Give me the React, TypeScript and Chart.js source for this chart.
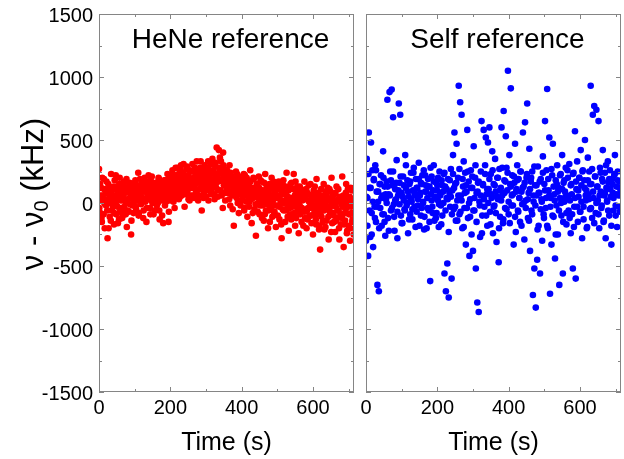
import React, { useEffect, useRef } from 'react';
import { Chart, registerables } from 'chart.js';

Chart.register(...registerables);

const FONT = '"Liberation Sans", Arial, Helvetica, sans-serif';
const X_MIN = 0;
const X_MAX = 715;
const X_TICK_STEP = 200;
const Y_MIN = -1500;
const Y_MAX = 1500;
const Y_TICK_STEP = 500;
const X_TITLE = 'Time (s)';
const HENE_TITLE = 'HeNe reference';
const SELF_TITLE = 'Self reference';
const Y_TITLE_MAIN = 'ν - ν';
const Y_TITLE_SUB = '0';
const Y_TITLE_UNIT = ' (kHz)';

// ν - ν0 (kHz), HeNe reference, samples at t = 0, 2, 4, ... s
const heneValuesEven = [
  270, 40, -80, 120, -150, 60, 10, 190, -200, 30,
  -20, 90, -280, 150, 0, -110, 70, 230, -60, 110,
  40, -170, 180, 10, -90, 130, -30, 60, -130, 200,
  80, -40, 150, -100, 20, 170, -60, 100, 0, -190,
  120, 30, -70, 160, 50, -250, 90, -20, 140, 10,
  60, 180, -50, 100, 20, 240, -80, 130, 70, -10,
  150, 40, -120, 90, 200, 10, 110, -40, 170, 60,
  30, 130, -90, 80, 210, 0, 140, 50, -60, 120,
  90, -20, 160, 40, 190, -130, 70, 110, 20, 150,
  -160, 100, 60, 180, 10, 130, 230, 50, -70, 140,
  110, 200, 40, 260, 90, 150, -40, 220, 130, 70,
  280, 160, 30, 210, 120, 300, 60, 180, 240, 100,
  -30, 190, 140, 270, 80, 220, 160, 20, 250, 120,
  170, 310, 60, 200, 140, 240, 90, 330, 180, 20,
  220, 110, 280, 150, -60, 260, 190, 80, 300, 140,
  50, 240, 170, 330, 110, 200, 260, 70, 180, 350,
  130, 230, 30, 290, 160, 440, 200, 100, 420, 250,
  180, 330, 60, 230, 400, 140, 270, 20, 190, 120,
  240, 80, 170, 300, -20, 150, 210, 60, 130, -180,
  190, 100, 250, 40, 160, 110, -80, 210, 70, 140,
  20, 180, 90, 230, -40, 130, 60, 200, -110, 100,
  150, 10, 260, 80, -160, 120, 40, 190, -50, 90,
  -260, 60, 140, 0, 210, -90, 100, 30, 170, -20,
  80, -140, 50, 230, -60, 120, 10, -200, 90, 150,
  -30, 60, 200, -110, 30, 130, -70, 80, -190, 40,
  110, -20, 170, -130, 60, 0, -280, 90, 140, -60,
  20, -150, 80, 240, -40, 50, -220, 120, -90, 10,
  160, -110, 40, 230, -20, -180, 70, 0, 130, -70,
  -240, 60, -30, 110, -150, 20, 90, -60, 170, -120,
  30, -200, 80, -40, 140, -100, 0, 60, -160, 20,
  -250, 100, -60, 40, -130, 190, -20, -90, 70, -180,
  -370, 10, -110, 60, -40, 150, -210, -10, 90, -140,
  -50, 40, -290, 110, -80, -20, 200, -160, 20, -100,
  70, -230, -30, 130, -120, 30, -60, -290, 50, -170,
  -10, 210, -90, -350, 40, -140, 80, -40, -220, 110,
  -180, 10, -300, 120, -80, -150, 30, -250,
];

// ν - ν0 (kHz), HeNe reference, samples at t = 1, 3, 5, ... s
const heneValuesOdd = [
  -40, 150, 60, -120, 200, 20, -90, 110, -10, 80,
  170, -60, 30, -200, 120, 50, -140, 90, 10, -30,
  130, -80, 60, 220, -20, 100, -160, 40, 150, -70,
  20, 110, -120, 60, 140, -30, 80, -90, 190, 30,
  -60, 90, 150, -10, 70, -140, 120, 40, -80, 100,
  160, -30, 80, 20, 140, -100, 60, 190, 0, 110,
  40, 170, -60, 120, 30, 90, -150, 140, 60, 220,
  100, -40, 180, 20, 70, 150, -90, 110, 10, 160,
  50, 130, 0, 200, -60, 90, 150, 30, -100, 120,
  70, 180, -20, 110, 40, 160, 90, -150, 200, 20,
  170, 60, 230, 130, 10, 190, 100, 280, 40, 150,
  90, 230, 180, 50, 270, 140, 200, 80, 310, 160,
  220, 70, 150, 290, 110, 30, 200, 260, 140, 60,
  250, 120, 180, 40, 280, 150, 210, 100, 260, 170,
  60, 200, 330, 120, 240, 170, 40, 220, 130, 270,
  190, 100, 280, 20, 210, 150, 310, 90, 240, 180,
  260, 70, 190, 320, 120, 230, 50, 170, 280, 360,
  100, 250, 190, -40, 300, 160, 80, 220, 140, 260,
  120, 200, 30, 170, 240, 90, 150, -50, 190, 110,
  60, 170, 120, 230, 0, 140, 80, 190, -20, 110,
  130, 50, 150, -60, 220, 90, 10, 140, 180, 40,
  -30, 110, 170, 30, 90, -80, 200, 60, 120, -10,
  90, 150, -70, 40, 120, -20, 180, 70, -120, 100,
  20, 160, -90, 70, -10, 140, 40, -60, 110, -150,
  130, -50, 60, 10, 170, -80, 100, -20, 40, 140,
  -100, 60, -30, 120, 20, -170, 90, -50, 180, 0,
  70, 130, -60, 30, -110, 100, 0, -40, 150, -130,
  40, -30, 110, -80, 60, 170, -120, 20, -50, 90,
  -10, 130, -90, 50, -40, 100, -180, 30, -70, 60,
  110, -60, -130, 70, 10, -40, 150, -100, 40, -20,
  60, -90, 130, -30, -170, 20, 80, -60, -210, 30,
  -80, 110, -20, -150, 40, -60, 10, -190, 70, -40,
  120, -110, 20, -40, 90, -230, 0, 60, -80, -150,
  -20, 80, -140, 20, -60, 110, -200, 10, -90, 40,
  -120, -30, 60, -170, 10, -70, 150, -240, -20, 30,
  -90, 50, -200, -30, 100, -130, 0,
];

// ν - ν0 (kHz), self reference, samples at t = 0, 2, 4, ... s
const selfValuesA = [
  -300, 350, 40, -420, 560, 120, -270, 480, -80, 260,
  -350, 190, -30, 300, -150, 90, -650, 10, -700, 150,
  -40, 220, -180, 60, 410, -90, 130, -260, 30, 170,
  820, -120, 70, 880, 250, -60, 900, 140, 680, -10,
  -220, 110, 30, 340, -280, 60, 790, 160, 700, -100,
  80, -160, 210, 20, -50, 380, 120, -20, 180, -240,
  50, 150, -90, 240, 10, -130, 100, 280, -30, 60,
  190, -70, 120, 30, 320, -180, 80, 160, -40, 220,
  0, 260, -110, 90, 140, -200, 40, 190, -60, 130,
  -620, 70, 210, -30, 100, 300, -140, 50, 170, -80,
  140, 20, -190, 250, 60, -20, 180, -100, 90, 230,
  -560, 130, -700, 40, -480, 190, -750, 80, -30, 270,
  -600, 100, 380, -50, 560, 150, -140, 470, 20, 200,
  930, -90, 800, 60, 700, -200, 130, 330, -40, 240,
  -330, 90, 580, -120, 170, -420, 30, 260, -250, 120,
  -380, 450, -60, 200, -520, 80, -790, 160, -865, 10,
  -270, 250, 650, -100, 140, 580, -30, 300, 520, 70,
  -180, 480, 110, 600, -70, 230, 40, 410, -240, 150,
  -20, 350, 90, -310, 200, 30, -470, 270, -110, 120,
  600, 60, -160, 730, 180, -40, 530, 280, 100, 1050,
  -90, 380, 150, 910, -20, 220, 70, -330, 160, 470,
  -230, 110, 300, -60, 190, 40, -150, 250, 90, -10,
  560, 130, -290, 640, 20, 200, 790, -120, 80, 430,
  -380, 170, -60, 250, -730, 10, -520, 140, -830, 60,
  -450, 290, -180, 80, -560, 190, 30, -300, 370, -90,
  150, 650, -40, 260, 905, -200, 100, 520, -720, 40,
  -330, 220, 470, -110, 70, -440, 180, -20, 300, -250,
  120, -650, 40, 230, -100, 380, -560, 160, 10, 90,
  280, -170, 60, 200, -60, 310, 20, -240, 150, -90,
  -520, 240, -30, 570, -600, 110, 330, -150, 50, 200,
  -70, 420, 140, -280, 260, -30, 180, 500, 20, 100,
  -190, 360, 70, 250, -50, 930, 150, -120, 700, 40,
  770, 210, -80, 740, 130, 20, 650, -200, 280, 90,
  -40, 190, 420, -150, 60, 240, -280, 120, 10, 330,
  160, -100, 260, 50, -330, 190, 80, -60, 220, 380,
  -20, 130, -190, 250, 60, 170, -70, 100,
];

// ν - ν0 (kHz), self reference, samples at t = 1, 4, 7, ... s
const selfValuesB = [
  50, -180, 230, -60, 120, -250, 10, 180, -120, 260,
  -30, 90, -200, 150, 40, -90, 200, -150, 70, 0,
  130, -220, 60, 180, -40, 250, -110, 20, 160, -70,
  100, -10, 210, -160, 50, 140, -60, 300, 0, 90,
  -130, 170, 30, -50, 240, 80, -190, 120, -20, 190,
  60, -100, 150, 10, -210, 220, 90, -40, 130, -150,
  280, 20, -80, 170, 40, -120, 100, 200, -10, 70,
  -170, 140, 0, 240, -60, 110, 30, -230, 180, 50,
  -90, 230, 120, -30, 160, -140, 60, 270, -70, 20,
  190, -190, 80, 140, -40, 250, 0, -110, 120, 210,
  -60, 40, 300, -150, 90, 170, -20, 60, -240, 150,
  30, 230, -100, 110, 0, 190, -170, 70, 260, -30,
  140, -80, 50, 200, -200, 100, 20, 280, -130, 80,
  170, -50, 240, 10, -160, 130, 60, -20, 210, -110,
  90, 180, -70, 40, 250, -180, 120, 0, 160, -40,
  230, 30, -140, 110, 200, -90, 60, 290, -20, 140,
  -210, 80, 170, -50, 10, 240, -120, 100, 40, -180,
  190, 60, -30, 270, -100, 130, 20, -250, 150, 90,
  -60, 220, 0, 110, -150, 180, 50, -80, 260, 30,
  -120, 140, 70, 230, -190, 40, 170, -30, 100, 200,
  -70, 10, 250, -130, 120, 60, -200, 180, 30, 150,
  -40, 270, 90, -160, 210, 0, 130, -90, 60, 240,
  -20, 170, -140, 80, 300, 20, -60, 190, 110, -180,
  150, 40, 230, -100, 70, 180, -30, 120,
];

const FRAME_COLOR = '#858585';

const framePlugin = {
  id: 'frameTicks',
  afterDatasetsDraw(chart: any) {
    const { ctx, chartArea } = chart;
    const { left, right, top, bottom } = chartArea;
    const xs = chart.scales.x;
    const ys = chart.scales.y;
    ctx.save();
    ctx.strokeStyle = FRAME_COLOR;
    ctx.lineWidth = 1;
    ctx.strokeRect(Math.round(left) + 0.5, Math.round(top) + 0.5, Math.round(right - left) - 1, Math.round(bottom - top) - 1);
    const major = 5;
    const minor = 3;
    ctx.beginPath();
    const xMajors = xs.ticks.map((t: any) => t.value);
    xMajors.forEach((v: number) => {
      const px = Math.round(xs.getPixelForValue(v)) + 0.5;
      ctx.moveTo(px, bottom); ctx.lineTo(px, bottom - major);
      ctx.moveTo(px, top); ctx.lineTo(px, top + major);
      const mv = v + X_TICK_STEP / 2;
      if (mv < X_MAX) {
        const mp = Math.round(xs.getPixelForValue(mv)) + 0.5;
        ctx.moveTo(mp, bottom); ctx.lineTo(mp, bottom - minor);
        ctx.moveTo(mp, top); ctx.lineTo(mp, top + minor);
      }
    });
    const yMajors = ys.ticks.map((t: any) => t.value);
    yMajors.forEach((v: number) => {
      const py = Math.round(ys.getPixelForValue(v)) + 0.5;
      ctx.moveTo(left, py); ctx.lineTo(left + major, py);
      ctx.moveTo(right, py); ctx.lineTo(right - major, py);
      const mv = v + Y_TICK_STEP / 2;
      if (mv < Y_MAX) {
        const mp = Math.round(ys.getPixelForValue(mv)) + 0.5;
        ctx.moveTo(left, mp); ctx.lineTo(left + minor, mp);
        ctx.moveTo(right, mp); ctx.lineTo(right - minor, mp);
      }
    });
    ctx.stroke();
    ctx.restore();
  },
};

const panelTitlePlugin = {
  id: 'panelTitle',
  afterDraw(chart: any, _args: any, opts: any) {
    const { ctx, chartArea } = chart;
    ctx.save();
    ctx.font = `28px ${FONT}`;
    ctx.fillStyle = '#000';
    ctx.textAlign = 'center';
    ctx.textBaseline = 'alphabetic';
    ctx.fillText(opts.text, (chartArea.left + chartArea.right) / 2 + 4, chartArea.top + 34);
    ctx.restore();
  },
};

const yTitlePlugin = {
  id: 'yTitle',
  afterDraw(chart: any, _args: any, opts: any) {
    if (!opts.show) return;
    const { ctx, chartArea } = chart;
    ctx.save();
    const mainFont = `31px ${FONT}`;
    const subFont = `20px ${FONT}`;
    ctx.font = mainFont;
    const w1 = ctx.measureText(Y_TITLE_MAIN).width;
    const w3 = ctx.measureText(Y_TITLE_UNIT).width;
    ctx.font = subFont;
    const w2 = ctx.measureText(Y_TITLE_SUB).width;
    const total = w1 + w2 + w3;
    const cy = (chartArea.top + chartArea.bottom) / 2 - 9;
    ctx.translate(43, cy);
    ctx.rotate(-Math.PI / 2);
    ctx.fillStyle = '#000';
    ctx.textAlign = 'left';
    ctx.textBaseline = 'alphabetic';
    let x = -total / 2;
    ctx.font = mainFont;
    ctx.fillText(Y_TITLE_MAIN, x, 0);
    x += w1;
    ctx.font = subFont;
    ctx.fillText(Y_TITLE_SUB, x, 5);
    x += w2;
    ctx.font = mainFont;
    ctx.fillText(Y_TITLE_UNIT, x, 0);
    ctx.restore();
  },
};

type Pass = { values: number[]; start: number; step: number };

type PanelProps = {
  passes: Pass[];
  color: string;
  title: string;
  showY: boolean;
  left: number;
  width: number;
};

function Panel({ passes, color, title, showY, left, width }: PanelProps) {
  const ref = useRef<HTMLCanvasElement>(null);
  useEffect(() => {
    if (!ref.current) return;
    const data: { x: number; y: number }[] = [];
    passes.forEach((p) => {
      p.values.forEach((v, i) => data.push({ x: p.start + i * p.step, y: v }));
    });
    const chart = new Chart(ref.current, {
      type: 'scatter',
      data: {
        datasets: [
          {
            data,
            backgroundColor: color,
            borderWidth: 0,
            pointRadius: 3.3,
            pointHoverRadius: 3.3,
            clip: 0,
          } as any,
        ],
      },
      options: {
        animation: false,
        responsive: false,
        maintainAspectRatio: false,
        events: [],
        layout: {
          autoPadding: false,
          padding: showY ? { top: 14, right: 4, left: 0, bottom: 0 } : { top: 14, right: 3, left: 8, bottom: 0 },
        },
        plugins: {
          legend: { display: false },
          tooltip: { enabled: false },
          panelTitle: { text: title },
          yTitle: { show: showY },
        } as any,
        scales: {
          x: {
            type: 'linear',
            min: X_MIN,
            max: X_MAX,
            grid: { display: false, drawTicks: false },
            border: { display: false },
            ticks: {
              stepSize: X_TICK_STEP,
              autoSkip: false,
              maxRotation: 0,
              padding: 4,
              color: '#000',
              font: { size: 20, family: FONT },
              callback: (v: any) => String(v),
            },
            afterBuildTicks: (s: any) => {
              const ticks: { value: number }[] = [];
              for (let v = X_MIN; v <= X_MAX; v += X_TICK_STEP) ticks.push({ value: v });
              s.ticks = ticks;
            },
            title: {
              display: true,
              text: X_TITLE,
              color: '#000',
              font: { size: 25, family: FONT },
              padding: { top: 0, bottom: 1 },
            },
            afterFit: (s: any) => {
              s.height = 67;
              s.paddingLeft = 0;
              s.paddingRight = 0;
            },
          },
          y: {
            type: 'linear',
            display: showY,
            min: Y_MIN,
            max: Y_MAX,
            grid: { display: false, drawTicks: false },
            border: { display: false },
            ticks: {
              stepSize: Y_TICK_STEP,
              padding: 6,
              labelOffset: 2,
              color: '#000',
              font: { size: 20, family: FONT },
              callback: (v: any) => String(v),
            },
            afterFit: (s: any) => {
              s.width = showY ? 99 : 0;
              s.paddingTop = 0;
              s.paddingBottom = 0;
            },
          },
        },
      },
      plugins: [framePlugin, panelTitlePlugin, yTitlePlugin],
    });
    return () => chart.destroy();
  }, [passes, color, title, showY]);
  return (
    <canvas
      ref={ref}
      width={width}
      height={459}
      style={{ position: 'absolute', left, top: 0, width, height: 459 }}
    />
  );
}

const HENE_PASSES: Pass[] = [
  { values: heneValuesEven, start: 0, step: 2 },
  { values: heneValuesOdd, start: 1, step: 2 },
];
const SELF_PASSES: Pass[] = [
  { values: selfValuesA, start: 0, step: 2 },
  { values: selfValuesB, start: 1, step: 3 },
];

export default function App() {
  useEffect(() => {
    document.body.style.margin = '0';
  }, []);
  return (
    <div style={{ position: 'relative', width: 624, height: 459, background: '#fff' }}>
      <Panel passes={HENE_PASSES} color="#ff0000" title={HENE_TITLE} showY={true} left={0} width={358} />
      <Panel passes={SELF_PASSES} color="#0000ff" title={SELF_TITLE} showY={false} left={358} width={266} />
    </div>
  );
}
